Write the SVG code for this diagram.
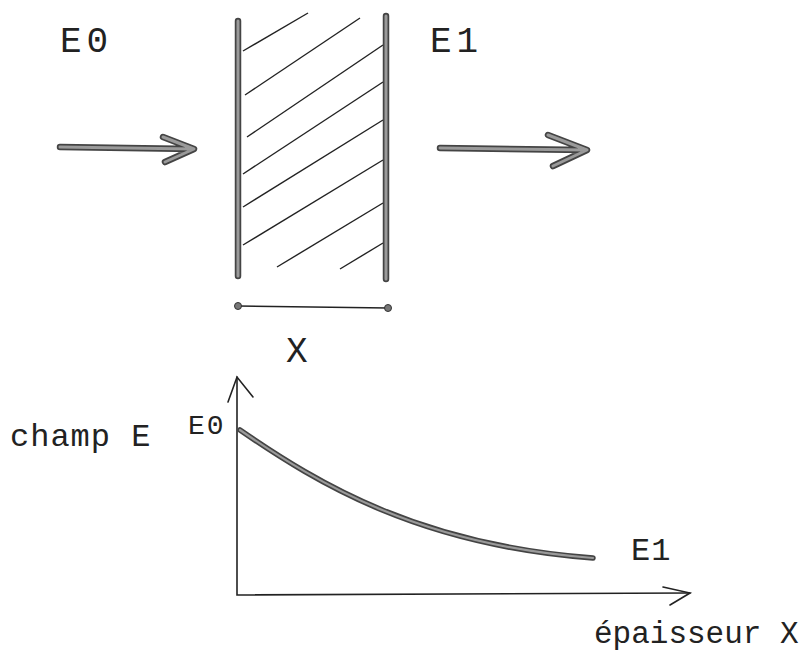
<svg xmlns="http://www.w3.org/2000/svg" width="811" height="656" viewBox="0 0 811 656">
<style>
text{font-family:"Liberation Mono","Courier New",monospace;fill:#222}
.big{font-size:36px;letter-spacing:5px}
.mid{font-size:32px;letter-spacing:1px}
.thick-o{fill:none;stroke:#444;stroke-width:6.5;stroke-linecap:round;stroke-linejoin:round}
.thick-i{fill:none;stroke:#9a9a9a;stroke-width:3;stroke-linecap:round;stroke-linejoin:round}
.hatch{stroke:#222;stroke-width:1.4;fill:none}
.axis{stroke:#222;stroke-width:1.6;fill:none;stroke-linecap:round}
</style>
<rect width="811" height="656" fill="#fff"/>
<g id="label-E0-top"><text class="big" x="60" y="52">E0</text></g>
<g id="label-E1-top"><text class="big" x="430" y="52">E1</text></g>
<g id="incident-arrow">
<path class="thick-o" d="M60,147 L193,149 M163,137 L194,149 L165,162"/>
<path class="thick-i" d="M60,147 L193,149 M163,137 L194,149 L165,162"/>
</g>
<g id="transmitted-arrow">
<path class="thick-o" d="M440,148 L586,150 M548,135 L587,150 L553,166"/>
<path class="thick-i" d="M440,148 L586,150 M548,135 L587,150 L553,166"/>
</g>
<g id="slab">
<g class="hatch">
<line x1="243" y1="51" x2="308" y2="13"/>
<line x1="245" y1="95" x2="360" y2="18"/>
<line x1="247" y1="137" x2="383" y2="45"/>
<line x1="243" y1="174" x2="383" y2="82"/>
<line x1="243" y1="207" x2="383" y2="120"/>
<line x1="243" y1="245" x2="383" y2="160"/>
<line x1="277" y1="267" x2="383" y2="203"/>
<line x1="340" y1="269" x2="383" y2="243"/>
</g>
<path class="thick-o" d="M238,21 L238,276 M386,16 L386,279"/>
<path class="thick-i" d="M238,21 L238,276 M386,16 L386,279"/>
</g>
<g id="dimension">
<line x1="238" y1="306" x2="388" y2="308" stroke="#222" stroke-width="1.4"/>
<circle cx="238" cy="306" r="3.5" fill="#777" stroke="#333" stroke-width="1"/>
<circle cx="388" cy="308" r="3.5" fill="#777" stroke="#333" stroke-width="1"/>
<text class="big" x="286" y="362">X</text>
</g>
<g id="graph">
<path class="axis" d="M237,377 L237,595 L690,593"/>
<path class="axis" d="M228,402 L237,377 L253,397"/>
<path class="axis" d="M663,587 L690,593 L670,605"/>
<path class="thick-o" style="stroke-width:5.5" d="M240,430 C320,485 420,545 593,558"/>
<path class="thick-i" style="stroke-width:2.2" d="M240,430 C320,485 420,545 593,558"/>
<text class="mid" x="10" y="446">champ E</text>
<text x="188" y="434" style="font-size:28px;letter-spacing:2px">E0</text>
<text class="mid" x="631" y="560">E1</text>
<text x="594" y="643" style="font-size:31px">épaisseur X</text>
</g>
</svg>
